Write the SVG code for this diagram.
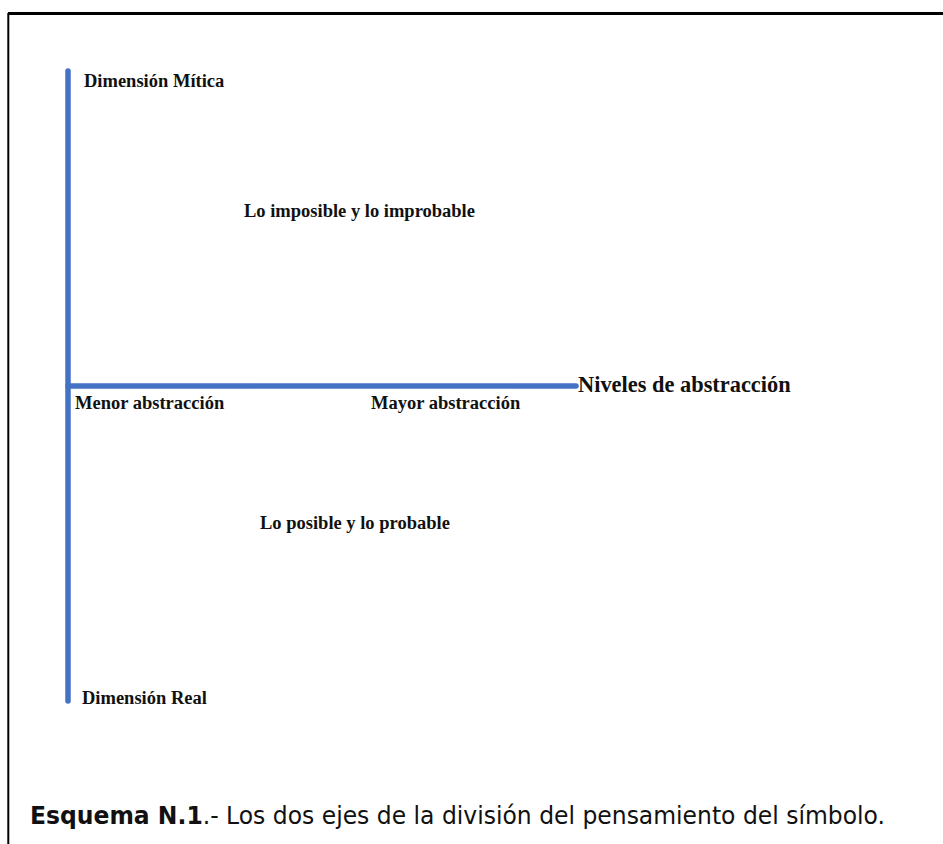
<svg xmlns="http://www.w3.org/2000/svg" width="943" height="844" viewBox="0 0 943 844">
<style>
.lbl{font-family:"Liberation Serif","Times New Roman",serif;font-weight:bold;font-size:18.5px;fill:#111;}
.big{font-size:22.4px;}
.axis{stroke:#4472C4;stroke-width:5.5;stroke-linecap:round;fill:none;}
.cap{font-family:"DejaVu Sans",Verdana,sans-serif;font-size:25.5px;fill:#111;}
</style>
<rect width="943" height="844" fill="#fff"/>
<g id="frame">
<line x1="8" y1="13.5" x2="943" y2="13.5" stroke="#000" stroke-width="3"/>
<line x1="8.3" y1="13" x2="8.3" y2="844" stroke="#000" stroke-width="2"/>
</g>
<g id="connectors">
<line class="axis" x1="68" y1="71" x2="68" y2="701"/>
<line class="axis" x1="68" y1="386" x2="576" y2="386"/>
</g>
<g id="dimension-mitica"><text class="lbl" x="84" y="87">Dimensión Mítica</text></g>
<g id="imposible"><text class="lbl" x="244" y="217">Lo imposible y lo improbable</text></g>
<g id="niveles"><text class="lbl big" x="578" y="392">Niveles de abstracción</text></g>
<g id="menor"><text class="lbl" x="75" y="409">Menor abstracción</text></g>
<g id="mayor"><text class="lbl" x="371" y="409">Mayor abstracción</text></g>
<g id="posible"><text class="lbl" x="260" y="529">Lo posible y lo probable</text></g>
<g id="dimension-real"><text class="lbl" x="82" y="704">Dimensión Real</text></g>
<g id="caption"><text class="cap" x="30" y="824" textLength="855" lengthAdjust="spacingAndGlyphs"><tspan font-weight="bold">Esquema N.1</tspan>.- Los dos ejes de la división del pensamiento del símbolo.</text></g>
</svg>
